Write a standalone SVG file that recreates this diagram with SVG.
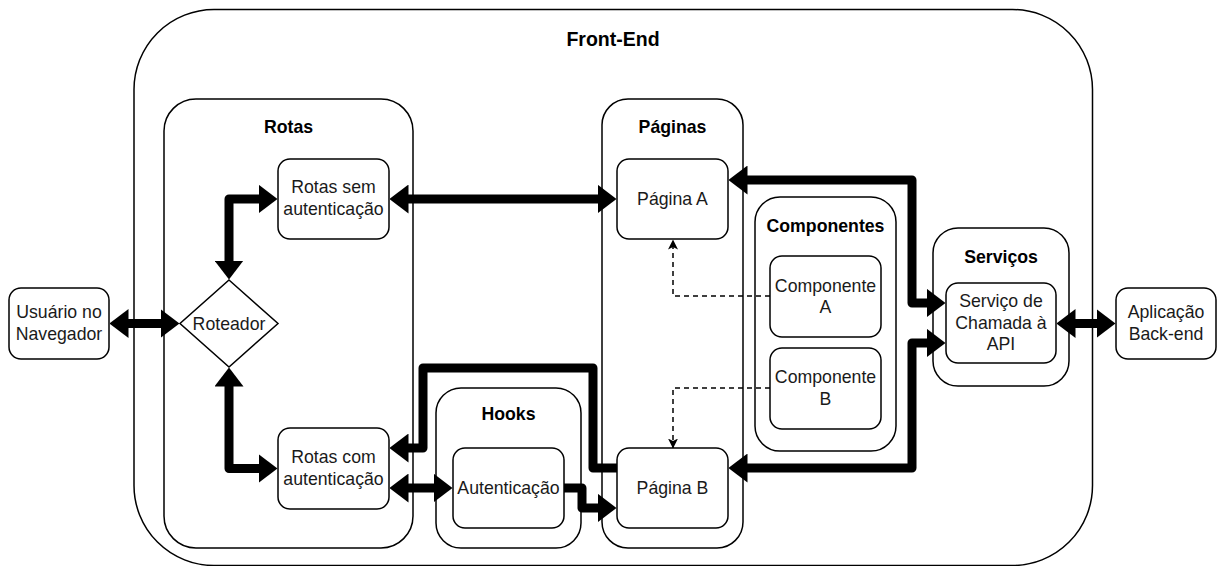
<svg xmlns="http://www.w3.org/2000/svg" width="1217" height="566" viewBox="0 0 1217 566">
  <style>
    .box { fill: #ffffff; stroke: #000000; stroke-width: 1.5; }
    .t { font-family: "Liberation Sans", Arial, sans-serif; font-size: 17.7px; fill: #1a1a1a; text-anchor: middle; }
    .b { font-weight: bold; fill: #000000; }
    .wire { fill: none; stroke: #000000; stroke-width: 9; stroke-linejoin: round; marker-start: url(#blk); marker-end: url(#blk); }
    .wire.one { marker-start: none; }
    .dash { fill: none; stroke: #000000; stroke-width: 1.5; stroke-dasharray: 5 4; marker-end: url(#cls); }
  </style>
  <defs>
    <marker id="blk" markerUnits="userSpaceOnUse" viewBox="0 0 19 29" markerWidth="19" markerHeight="29" refX="0.5" refY="14.5" orient="auto-start-reverse">
      <path d="M0,0 L19,14.5 L0,29 Z" fill="#000000"/>
    </marker>
    <marker id="cls" markerUnits="userSpaceOnUse" viewBox="0 0 10 10" markerWidth="10" markerHeight="10" refX="9.5" refY="5" orient="auto">
      <path d="M0,0 L10,5 L0,10 L2.5,5 Z" fill="#000000"/>
    </marker>
  </defs>

  <!-- outer application boundary -->
  <g id="front-end">
    <rect class="box" x="134" y="9.5" width="958.5" height="556" rx="80" ry="80"/>
    <text class="t b" x="613" y="46" style="font-size:19.5px">Front-End</text>
  </g>

  <!-- grouping containers -->
  <g id="rotas">
    <rect class="box" x="164" y="99" width="249" height="449" rx="32" ry="32"/>
    <text class="t b" x="288.5" y="133">Rotas</text>
  </g>
  <g id="paginas">
    <rect class="box" x="602" y="99" width="141" height="449" rx="26" ry="26"/>
    <text class="t b" x="672.5" y="133">Páginas</text>
  </g>
  <g id="componentes">
    <rect class="box" x="755" y="197" width="141" height="254" rx="25" ry="25"/>
    <text class="t b" x="825.5" y="232">Componentes</text>
  </g>
  <g id="servicos">
    <rect class="box" x="933" y="228" width="136" height="158" rx="25" ry="25"/>
    <text class="t b" x="1001" y="263">Serviços</text>
  </g>
  <g id="hooks">
    <rect class="box" x="436" y="388" width="145" height="160" rx="25" ry="25"/>
    <text class="t b" x="508.5" y="420">Hooks</text>
  </g>

  <!-- connectors -->
  <g id="connectors">
    <path class="wire" d="M128,323.5 H161"/>
    <path class="wire" d="M229,261 V199 H259"/>
    <path class="wire" d="M229,386 V468.5 H259"/>
    <path class="wire" d="M408,199 H598"/>
    <path class="wire" d="M408,488 H434"/>
    <path class="wire one" d="M617,468 H593 V368 H423 V448 H408"/>
    <path class="wire one" d="M564,488 H582 V508 H598"/>
    <path class="wire" d="M747,180 H912 V303 H927"/>
    <path class="wire" d="M747,468 H912 V343 H927"/>
    <path class="wire" d="M1075,323.5 H1097"/>
    <path class="dash" d="M770,296 H673 V240"/>
    <path class="dash" d="M770,388 H673 V448"/>
  </g>

  <!-- nodes -->
  <g id="usuario">
    <rect class="box" x="9" y="288" width="100" height="71" rx="12" ry="12"/>
    <text class="t" x="59" y="318">Usuário no</text>
    <text class="t" x="59" y="339.5">Navegador</text>
  </g>
  <g id="roteador">
    <path class="box" d="M229,280 L278,323.5 L229,367 L180,323.5 Z"/>
    <text class="t" x="229" y="329.5">Roteador</text>
  </g>
  <g id="rotas-sem-auth">
    <rect class="box" x="278" y="159" width="111" height="80" rx="12" ry="12"/>
    <text class="t" x="333.5" y="193">Rotas sem</text>
    <text class="t" x="333.5" y="214.5">autenticação</text>
  </g>
  <g id="rotas-com-auth">
    <rect class="box" x="278" y="428" width="111" height="81" rx="12" ry="12"/>
    <text class="t" x="333.5" y="463">Rotas com</text>
    <text class="t" x="333.5" y="484.5">autenticação</text>
  </g>
  <g id="pagina-a">
    <rect class="box" x="617" y="159" width="111" height="80" rx="12" ry="12"/>
    <text class="t" x="672.5" y="205">Página A</text>
  </g>
  <g id="pagina-b">
    <rect class="box" x="617" y="448" width="111" height="80" rx="12" ry="12"/>
    <text class="t" x="672.5" y="494">Página B</text>
  </g>
  <g id="componente-a">
    <rect class="box" x="770" y="256" width="111" height="81" rx="12" ry="12"/>
    <text class="t" x="825.5" y="291.5">Componente</text>
    <text class="t" x="825.5" y="313">A</text>
  </g>
  <g id="componente-b">
    <rect class="box" x="770" y="348" width="111" height="81" rx="12" ry="12"/>
    <text class="t" x="825.5" y="383">Componente</text>
    <text class="t" x="825.5" y="404.5">B</text>
  </g>
  <g id="autenticacao">
    <rect class="box" x="453" y="448" width="111" height="80" rx="12" ry="12"/>
    <text class="t" x="508.5" y="494">Autenticação</text>
  </g>
  <g id="servico-api">
    <rect class="box" x="946" y="283" width="110" height="80" rx="12" ry="12"/>
    <text class="t" x="1001" y="307">Serviço de</text>
    <text class="t" x="1001" y="328.5">Chamada à</text>
    <text class="t" x="1001" y="350">API</text>
  </g>
  <g id="backend">
    <rect class="box" x="1116" y="288" width="100" height="71" rx="12" ry="12"/>
    <text class="t" x="1166" y="318">Aplicação</text>
    <text class="t" x="1166" y="339.5">Back-end</text>
  </g>
</svg>
